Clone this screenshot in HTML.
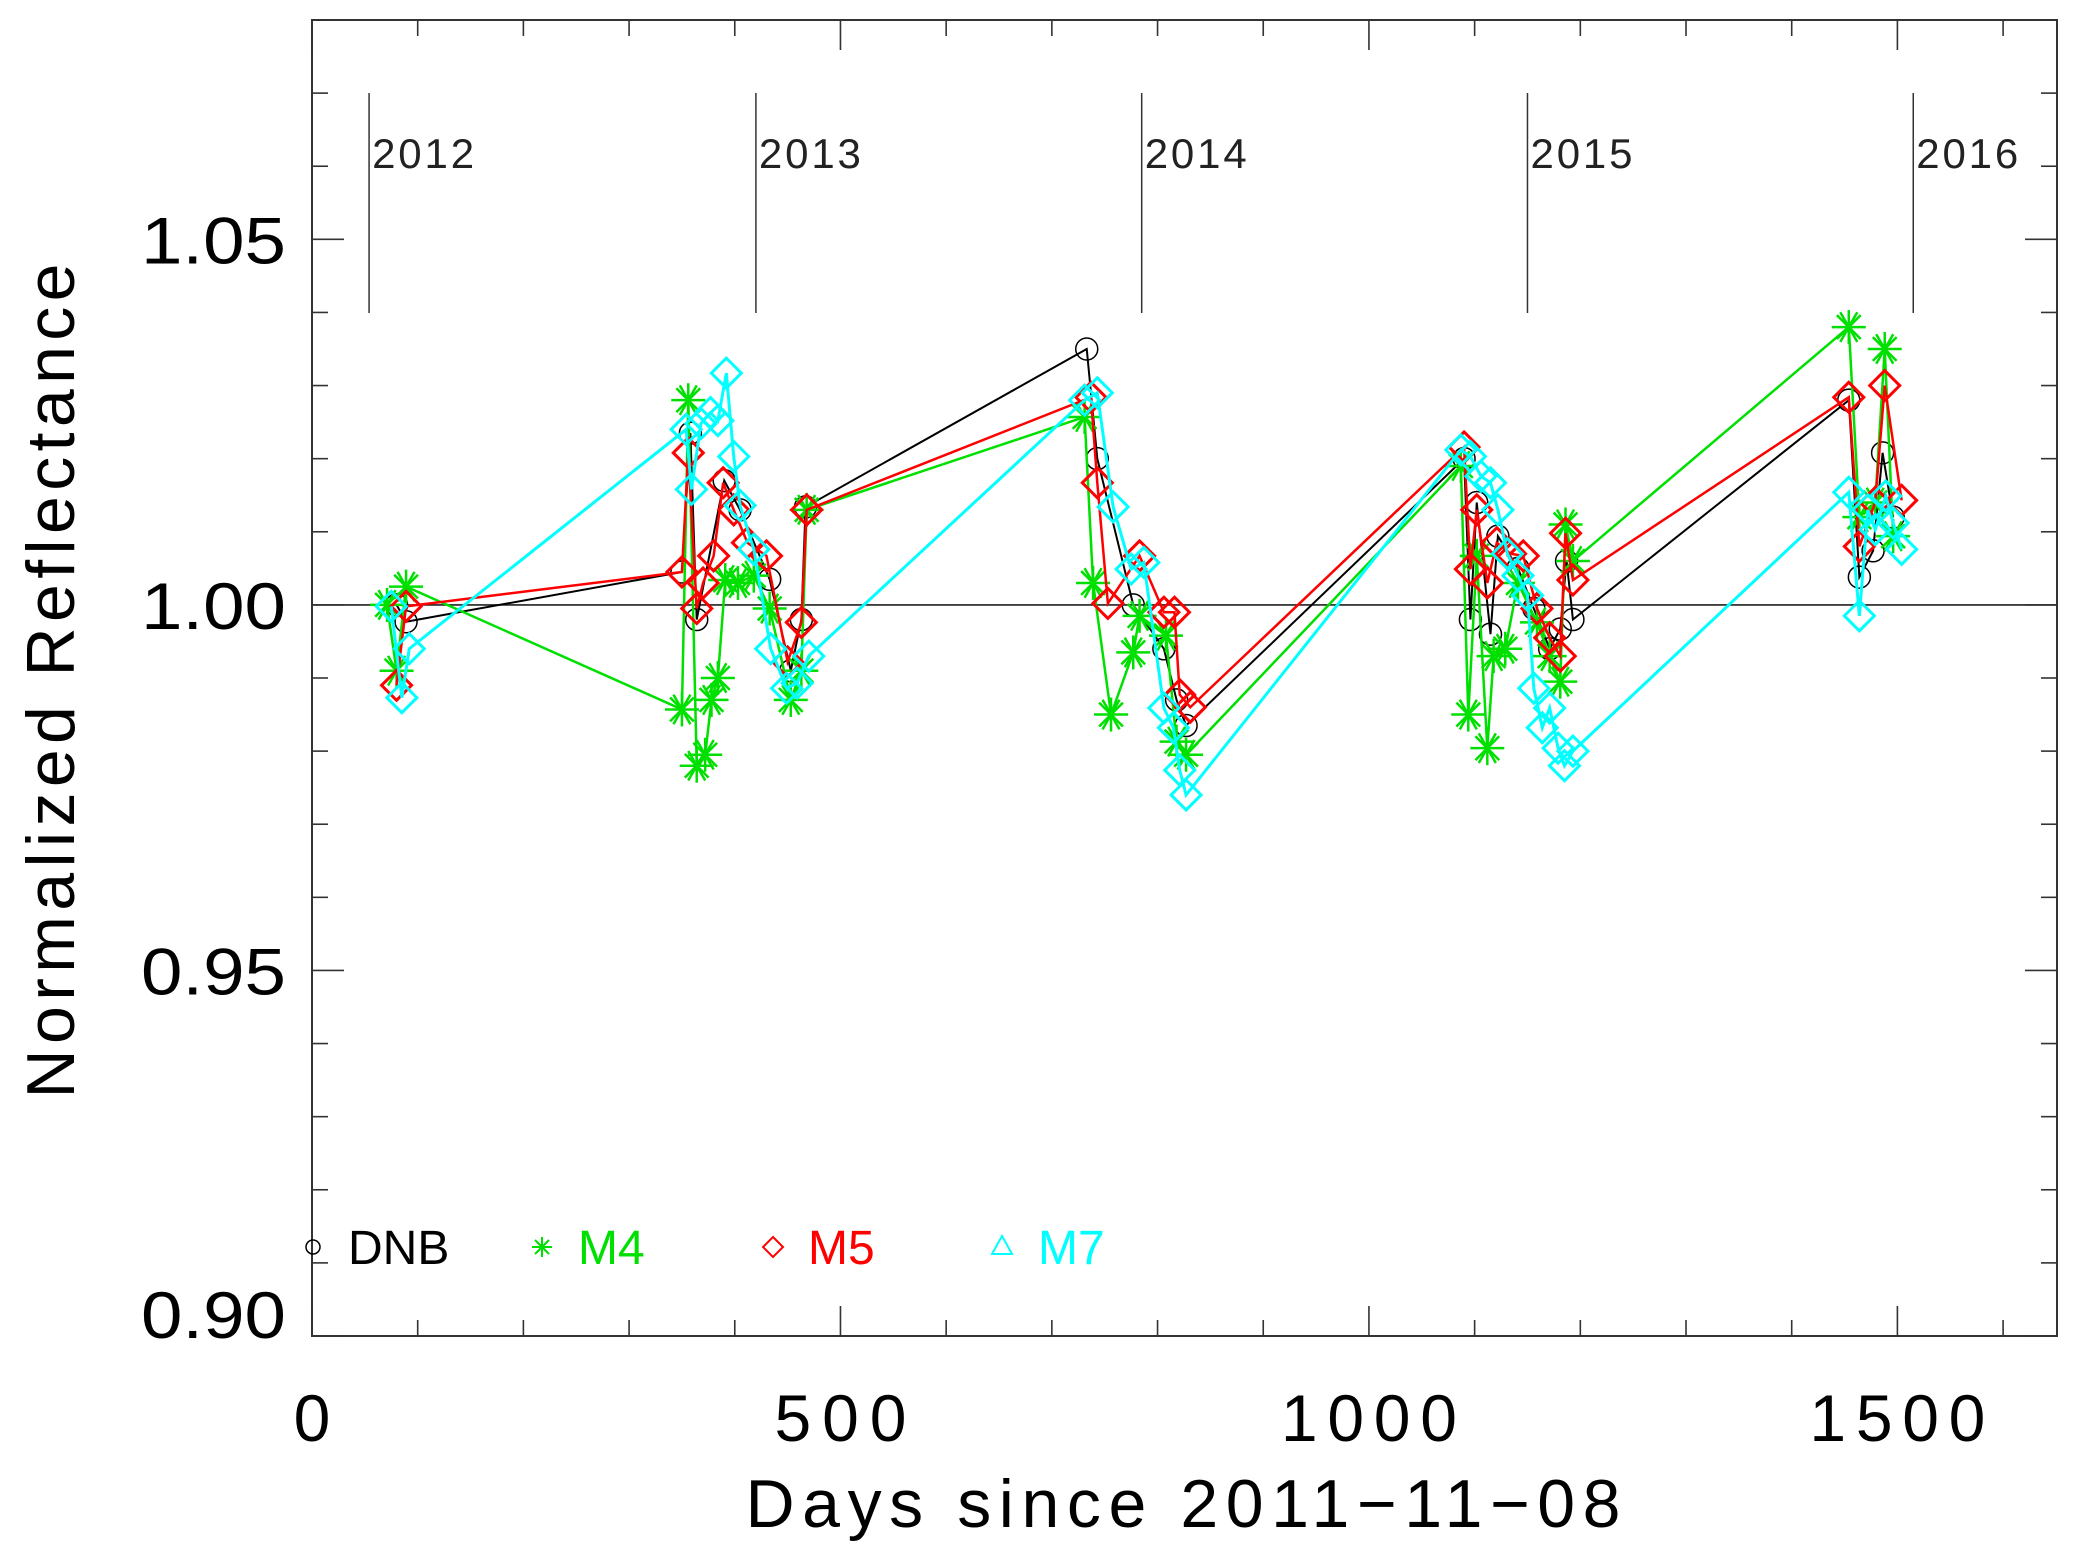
<!DOCTYPE html>
<html><head><meta charset="utf-8"><style>
html,body{margin:0;padding:0;background:#fff}
svg{display:block}
text{font-family:"Liberation Sans",sans-serif}
</style></head><body>
<svg id="chart" width="2073" height="1568" viewBox="0 0 2073 1568" xmlns="http://www.w3.org/2000/svg">
<rect width="2073" height="1568" fill="#fff"/>
<g id="grid"></g>
<g id="series"></g>
<g id="axes"></g>
</svg>
<script>
const xTicks=[0,500,1000,1500];
const yTicks=[0.90,0.95,1.00,1.05];
const yTickLabels=["0.90","0.95","1.00","1.05"];
const years=["2012","2013","2014","2015","2016"];
const yearDays=[54,420,785,1150,1515];
const dnbX=[80,89,350,358,364,390,405,433,453,463,467,733,743,777,806,818,827,1090,1096,1102,1115,1122,1141,1156,1171,1181,1187,1193,1454,1464,1477,1486,1496];
const dnbY=[1.000,0.9977,1.0045,1.0235,0.998,1.017,1.013,1.0035,0.991,0.998,1.0134,1.035,1.020,1.000,0.994,0.987,0.9835,1.020,0.998,1.014,0.996,1.0094,1.005,0.9995,0.994,0.9967,1.006,0.998,1.028,1.0038,1.0074,1.0208,1.012];
const m4X=[71,80,89,350,356,364,372,378,384,391,403,418,433,453,463,468,731,739,756,777,783,808,818,827,1087,1094,1102,1112,1118,1129,1141,1159,1171,1181,1186,1193,1454,1464,1479,1488,1496];
const m4Y=[1.000,0.991,1.0025,0.9857,1.028,0.978,0.9795,0.987,0.990,1.0034,1.003,1.004,0.9995,0.987,0.991,1.013,1.0257,1.003,0.985,0.9935,0.9985,0.9958,0.9813,0.9795,1.019,0.985,1.0067,0.9804,0.993,0.994,1.003,0.9976,0.993,0.9895,1.011,1.006,1.038,1.012,1.014,1.035,1.0094];
const m5X=[80,89,350,356,364,370,380,389,399,412,430,450,463,468,737,743,753,783,806,816,821,831,1090,1096,1102,1112,1121,1134,1146,1159,1171,1181,1186,1193,1454,1464,1479,1488,1504];
const m5Y=[0.989,0.9998,1.0045,1.0208,0.9995,1.003,1.0067,1.0167,1.013,1.0085,1.0067,0.9922,0.9976,1.013,1.0284,1.0167,1.0002,1.0067,0.999,0.999,0.9877,0.986,1.0216,1.0049,1.013,1.003,1.0085,1.007,1.0067,0.9995,0.9955,0.993,1.0098,1.0034,1.0284,1.008,1.014,1.030,1.0143];
const m7X=[75,85,92,354,359,368,377,384,392,399,405,418,434,449,459,470,731,743,758,775,787,806,815,821,827,1087,1096,1106,1115,1122,1131,1141,1150,1156,1164,1171,1179,1185,1193,1454,1464,1472,1479,1489,1496,1504];
const m7Y=[0.9998,0.9873,0.994,1.024,1.0158,1.0248,1.0263,1.0252,1.0317,1.0203,1.0136,1.0076,0.994,0.9886,0.9893,0.993,1.028,1.029,1.0134,1.0049,1.0058,0.9859,0.9832,0.9774,0.974,1.0212,1.0203,1.0176,1.0167,1.013,1.007,1.004,1.0013,0.9886,0.9832,0.9859,0.9804,0.978,0.980,1.0154,0.9985,1.013,1.0103,1.0149,1.0112,1.0076];

const L=312,R=2057,T=20,B=1336,XMIN=0,XMAX=1651,YMIN=0.90,YMAX=1.08;
const sx=d=>L+(d-XMIN)/(XMAX-XMIN)*(R-L);
const sy=v=>B-(v-YMIN)/(YMAX-YMIN)*(B-T);
const NS="http://www.w3.org/2000/svg";
function mk(tag,attrs,parent){const e=document.createElementNS(NS,tag);for(const k in attrs)e.setAttribute(k,attrs[k]);parent.appendChild(e);return e;}
const axes=document.getElementById('axes'),grid=document.getElementById('grid'),series=document.getElementById('series');

let fr=mk('rect',{x:L,y:T,width:R-L,height:B-T,fill:'none',stroke:'#333','stroke-width':2},axes);


let rl=mk('line',{x1:L,x2:R,y1:sy(1),y2:sy(1),stroke:'#222','stroke-width':1.6},grid);


for(let d=0;d<=1600;d+=100){const maj=d%500===0;const len=maj?30:16;const x=sx(d);
 let t1=mk('line',{x1:x,x2:x,y1:B,y2:B-len,stroke:'#333','stroke-width':1.6},axes);
 
 
 let t2=mk('line',{x1:x,x2:x,y1:T,y2:T+len,stroke:'#333','stroke-width':1.6},axes);
 
 }
xTicks.forEach(d=>{const s=String(d);let t=mk('text',{x:sx(d),y:1441,'font-size':66,'text-anchor':'middle',fill:'#000'},axes);t.textContent=s;
 if(s.length>1)t.setAttribute('textLength',s.length*44);
 
 });
for(let i=0;i<=18;i++){const v=0.90+i*0.01;const maj=i%5===0;const len=maj?32:16;const y=sy(v);
 let t1=mk('line',{x1:L,x2:L+len,y1:y,y2:y,stroke:'#333','stroke-width':1.6},axes);
 
 
 let t2=mk('line',{x1:R,x2:R-len,y1:y,y2:y,stroke:'#333','stroke-width':1.6},axes);
 
 }
yTicks.forEach((v,i)=>{const off=(i===0)?2:24;let t=mk('text',{x:286,y:sy(v)+off,'font-size':66,'text-anchor':'end',fill:'#000',textLength:145,lengthAdjust:'spacingAndGlyphs'},axes);t.textContent=yTickLabels[i];
 
 });
let xt=mk('text',{x:1183,y:1527,'font-size':68,'text-anchor':'middle',fill:'#000',textLength:875},axes);xt.textContent='Days since 2011\u221211\u221208';


let yt=mk('text',{x:0,y:0,'font-size':68,'text-anchor':'middle',fill:'#000',textLength:835,transform:'translate(74,681) rotate(-90)'},axes);yt.textContent='Normalized Reflectance';


years.forEach((yr,i)=>{const x=sx(yearDays[i]);
 let l=mk('line',{x1:x,x2:x,y1:93,y2:313,stroke:'#333','stroke-width':1.5},grid);
 
 
 let t=mk('text',{x:x+3,y:168,'font-size':42,fill:'#222',textLength:102},grid);t.textContent=yr;
 
 });

function marker(kind,x,y,col,parent){
 if(kind==='circle'){return mk('circle',{cx:x,cy:y,r:11,fill:'none',stroke:col,'stroke-width':1.5},parent);}
 if(kind==='star'){const g=mk('g',{stroke:col,'stroke-width':2.5},parent);const r=17;
  [[0,1],[1,0],[0.7,0.7],[0.7,-0.7]].forEach(([a,b])=>mk('line',{x1:x-r*a,y1:y-r*b,x2:x+r*a,y2:y+r*b},g));
  mk('line',{x1:x-r*0.5,y1:y-r*0.87,x2:x+r*0.5,y2:y+r*0.87},g);mk('line',{x1:x+r*0.5,y1:y-r*0.87,x2:x-r*0.5,y2:y+r*0.87},g);return g;}
 if(kind==='diamond'){const r=15;return mk('polygon',{points:`${x},${y-r} ${x+r},${y} ${x},${y+r} ${x-r},${y}`,fill:'none',stroke:col,'stroke-width':3},parent);}
}
function drawSeries(name,xs,ys,col,kind,sw){
 const g=mk('g',{},series);
 
 
 let pl=mk('polyline',{points:xs.map((d,i)=>sx(d)+','+sy(ys[i])).join(' '),fill:'none',stroke:col,'stroke-width':sw},g);
 
 
 xs.forEach((d,i)=>{const m=marker(kind,sx(d),sy(ys[i]),col,g);
  
  });
}
drawSeries('dnb',dnbX,dnbY,'#000','circle',2);
drawSeries('m4',m4X,m4Y,'#00e000','star',2.5);
drawSeries('m5',m5X,m5Y,'#ff0000','diamond',2.5);
drawSeries('m7',m7X,m7Y,'#00ffff','diamond',3);

const legNames=['DNB','M4','M5','M7'],legCols=['#000','#00e000','#ff0000','#00ffff'],legSx=[313,542,773,1002],legTx=[348,578,808,1038];
const ly=1247;
legNames.forEach((n,i)=>{const g=mk('g',{},axes);
 
 
 const x=legSx[i],c=legCols[i];
 if(i===0)mk('circle',{cx:x,cy:ly,r:7,fill:'none',stroke:c,'stroke-width':1.5},g);
 if(i===1){[[0,1],[1,0],[0.7,0.7],[0.7,-0.7]].forEach(([a,b])=>mk('line',{x1:x-10*a,y1:ly-10*b,x2:x+10*a,y2:ly+10*b,stroke:c,'stroke-width':2},g));}
 if(i===2)mk('polygon',{points:`${x},${ly-10} ${x+10},${ly} ${x},${ly+10} ${x-10},${ly}`,fill:'none',stroke:c,'stroke-width':2},g);
 if(i===3)mk('polygon',{points:`${x},${ly-11} ${x+10},${ly+7} ${x-10},${ly+7}`,fill:'none',stroke:c,'stroke-width':2},g);
 const t=mk('text',{x:legTx[i],y:ly+17,'font-size':48,fill:c},g);t.textContent=n;
});
</script>
</body></html>
